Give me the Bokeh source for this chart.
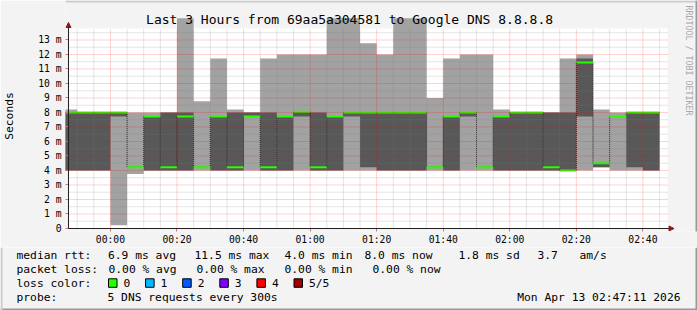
import math
from datetime import datetime, timedelta, timezone

from bokeh.plotting import figure
from bokeh.layouts import column
from bokeh.models import (Range1d, FixedTicker, CustomJSTickFormatter, BoxAnnotation,
                          Arrow, NormalHead)
from bokeh.core.properties import value
from bokeh.embed import file_html
from bokeh.resources import INLINE

# ---------------- data ----------------
slot_start = ["23:45", "23:50", "23:55", "00:00", "00:05", "00:10", "00:15", "00:20", "00:25",
              "00:30", "00:35", "00:40", "00:45", "00:50", "00:55", "01:00", "01:05", "01:10",
              "01:15", "01:20", "01:25", "01:30", "01:35", "01:40", "01:45", "01:50", "01:55",
              "02:00", "02:05", "02:10", "02:15", "02:20", "02:25", "02:30", "02:35", "02:40"]
# five sorted pings per slot, in ms
ping_1 = [4.0, 4.0, 4.0, 0.23, 3.75, 4.0, 4.0, 4.0, 4.0, 4.0, 4.0, 4.0, 4.0, 4.0, 4.0, 4.0, 4.0, 4.0,
          4.0, 4.0, 4.0, 4.0, 4.0, 4.0, 4.0, 4.0, 4.0, 4.0, 4.0, 4.0, 4.0, 4.0, 4.23, 4.0, 4.0, 4.0]
ping_2 = [4.0, 4.0, 4.0, 7.72, 4.23, 4.0, 4.0, 4.0, 4.23, 4.0, 4.0, 7.72, 4.0, 4.0, 7.72, 4.0, 4.0, 7.72,
          4.23, 4.0, 4.0, 4.0, 4.23, 4.0, 7.72, 4.23, 4.0, 4.0, 4.0, 4.0, 4.0, 7.72, 4.23, 7.72, 4.23, 4.0]
ping_median = [8.0, 8.0, 8.0, 8.0, 4.23, 7.72, 4.23, 7.72, 4.23, 7.72, 4.23, 7.72, 4.23, 7.72, 8.05, 4.23,
               7.72, 8.0, 8.0, 8.0, 8.0, 8.0, 4.23, 7.72, 8.0, 4.23, 7.72, 8.0, 8.0, 4.23, 4.0, 11.45,
               4.5, 7.72, 8.0, 8.0]
ping_4 = [8.0, 8.0, 8.0, 8.0, 4.23, 7.72, 8.0, 8.0, 4.23, 7.72, 8.0, 8.0, 8.0, 7.72, 8.05, 8.0, 7.72, 8.0,
          8.0, 8.0, 8.0, 8.0, 4.23, 7.72, 8.0, 4.23, 7.72, 8.0, 8.0, 8.0, 8.0, 11.72, 4.5, 7.72, 8.0, 8.0]
ping_5 = [8.2, 8.0, 8.0, 8.0, 8.0, 8.0, 8.0, 14.5, 8.78, 11.72, 8.2, 8.0, 11.72, 12.0, 12.0, 12.0, 14.5,
          14.5, 12.78, 12.0, 14.5, 14.5, 9.0, 11.72, 12.0, 12.0, 8.2, 8.0, 8.0, 8.0, 11.72, 12.0, 8.2,
          8.0, 8.0, 8.0]

x_tick_labels = ["00:00", "00:20", "00:40", "01:00", "01:20", "01:40", "02:00", "02:20", "02:40"]
y_tick_values = [0, 1, 2, 3, 4, 5, 6, 7, 8, 9, 10, 11, 12, 13]
view_start = "23:47:24"
view_end = "02:47:24"
y_top_ms = 13.793

title_text = "Last 3 Hours from 69aa5a304581 to Google DNS 8.8.8.8"
legend_median = ["median rtt:", "6.9 ms avg", "11.5 ms max", "4.0 ms min", "8.0 ms now",
                 "1.8 ms sd", "3.7", "am/s"]
legend_loss = ["packet loss:", "0.00 % avg", "0.00 % max", "0.00 % min", "0.00 % now"]
loss_title = "loss color:"
loss_labels = ["0", "1", "2", "3", "4", "5/5"]
loss_colors = ["#26ff00", "#00b8ff", "#0059ff", "#7e00ff", "#ff0000", "#a10000"]
probe_text = ["probe:", "5 DNS requests every 300s"]
date_text = "Mon Apr 13 02:47:11 2026"
side_text = "RRDTOOL / TOBI OETIKER"

# ---------------- helpers ----------------
BASE = datetime(2026, 4, 13, tzinfo=timezone.utc)


def to_ms(s):
    parts = [int(v) for v in s.split(":")]
    while len(parts) < 3:
        parts.append(0)
    h, m, sec = parts
    d = BASE + timedelta(hours=h, minutes=m, seconds=sec)
    if h >= 12:
        d -= timedelta(days=1)
    return d.timestamp() * 1000.0


STEP = 5 * 60 * 1000.0
x0 = to_ms(view_start)
x1 = to_ms(view_end)

# graph area (white) in canvas pixels: x 67..667, y 28..228
GL, GR, GT, GB = 67, 667, 28, 228


def X(px):
    return x0 + (px - GL) / (GR - GL) * (x1 - x0)


def Y(py):
    return (GB - py) / (GB - GT) * y_top_ms


MAIN_H = 247
FRAME_L, FRAME_B = 64, 231      # bokeh frame: x 64..697, y 0..231

starts = [to_ms(s) for s in slot_start]
ends = [s + STEP for s in starts]
xs = starts + [ends[-1]]
MONO = "DejaVu Sans Mono"
CANVAS = "#f3f3f3"


def no_align(fig):
    try:
        fig.frame_align = False
    except Exception:
        pass


# ---------------- main figure ----------------
p = figure(width=697, height=MAIN_H, output_backend="svg", toolbar_location=None,
           x_range=Range1d(X(FRAME_L), X(697)), y_range=Range1d(Y(FRAME_B), Y(0)),
           min_border_left=FRAME_L, min_border_right=0, min_border_top=0,
           min_border_bottom=MAIN_H - FRAME_B, title=None)
no_align(p)
p.border_fill_color = CANVAS
p.background_fill_color = CANVAS
p.outline_line_color = None
p.grid.visible = False

# white graph area
p.add_layout(BoxAnnotation(left=x0, right=x1, bottom=0, top=y_top_ms, fill_color="#ffffff",
                           fill_alpha=1.0, line_color=None, level="underlay"))

# smoke
p.varea_step(x=xs, y1=ping_1 + [ping_1[-1]], y2=ping_5 + [ping_5[-1]], step_mode="after",
             fill_color="#a2a2a2")
p.varea_step(x=xs, y1=ping_2 + [ping_2[-1]], y2=ping_4 + [ping_4[-1]], step_mode="after",
             fill_color="#585858")
p.step(x=xs, y=ping_median + [ping_median[-1]], mode="after", line_color="#202020",
       line_width=1, line_dash="1 1")
p.quad(left=starts, right=ends,
       bottom=[m - 0.07 for m in ping_median], top=[m + 0.07 for m in ping_median],
       fill_color="#26ff00", line_color=None)

# grid drawn over the smoke, as rrdtool does (limited to the graph area)
major_x = [to_ms(s) for s in x_tick_labels]
minor_x = []
t = to_ms("23:50")
while t <= x1:
    if t not in major_x:
        minor_x.append(t)
    t += STEP
minor_y = [v + 0.5 for v in y_tick_values]
major_y = [v for v in y_tick_values if v > 0]
GRID_MINOR = dict(line_color="#808080", line_alpha=0.4, line_width=1, line_dash="1 1")
GRID_MAJOR = dict(line_color="#ff0000", line_alpha=0.36, line_width=1, line_dash="1 1")
p.segment(x0=minor_x, x1=minor_x, y0=[0] * len(minor_x), y1=[y_top_ms] * len(minor_x), **GRID_MINOR)
p.segment(x0=[x0] * len(minor_y), x1=[x1] * len(minor_y), y0=minor_y, y1=minor_y, **GRID_MINOR)
p.segment(x0=major_x, x1=major_x, y0=[0] * len(major_x), y1=[y_top_ms] * len(major_x), **GRID_MAJOR)
p.segment(x0=[x0] * len(major_y), x1=[x1] * len(major_y), y0=major_y, y1=major_y, **GRID_MAJOR)

# axis lines with arrows
head = dict(size=5, fill_color="#8b1a1a", line_color="#8b1a1a")
p.add_layout(Arrow(x_start=x0, y_start=0, x_end=X(673.5), y_end=0, line_color="#202020",
                   line_width=1, end=NormalHead(**head)))
p.add_layout(Arrow(x_start=x0, y_start=0, x_end=x0, y_end=Y(22), line_color="#202020",
                   line_width=1, end=NormalHead(**head)))

# axes
p.xaxis.ticker = FixedTicker(ticks=major_x, minor_ticks=[])
p.xaxis.formatter = CustomJSTickFormatter(code="""
const d = new Date(tick);
return String(d.getUTCHours()).padStart(2,'0') + ':' + String(d.getUTCMinutes()).padStart(2,'0');
""")
p.yaxis.ticker = FixedTicker(ticks=y_tick_values, minor_ticks=[])
p.yaxis.formatter = CustomJSTickFormatter(code="""
const v = Math.round(tick);
return v == 0 ? '0' : v + ' m';
""")
for ax in (p.xaxis[0], p.yaxis[0]):
    ax.axis_line_color = None
    ax.major_label_text_font = MONO
    ax.major_label_text_font_size = "9.7px"
    ax.major_label_text_color = "#000000"
    ax.major_tick_in = 3
    ax.major_tick_out = 0
    ax.minor_tick_in = 0
    ax.minor_tick_out = 0
    ax.major_tick_line_color = "#e07070"
p.xaxis.major_label_standoff = 2
p.yaxis.major_label_standoff = 4
p.yaxis.axis_label = "Seconds"
p.yaxis.axis_label_text_font = MONO
p.yaxis.axis_label_text_font_size = "11.3px"
p.yaxis.axis_label_text_font_style = "normal"
p.yaxis.axis_label_text_color = "#000000"
p.yaxis.axis_label_standoff = 19

# title and side text
p.text(x=[X(348.5)], y=[Y(19)], text=[title_text], text_font=value(MONO), text_font_size="13px",
       text_align="center", text_baseline="middle", text_color="#000000")
p.text(x=[X(688)], y=[Y(5)], text=[side_text], text_font=value(MONO), text_font_size="8.3px",
       text_align="left", text_baseline="middle", text_color="#a8a8a8", angle=-math.pi / 2)
# shades (top and right)
p.quad(left=[X(FRAME_L), X(695)], right=[X(697), X(697)], bottom=[Y(2), Y(MAIN_H)],
       top=[Y(0), Y(0)], fill_color=["#cbcbcb", "#999999"], line_color=None)

# ---------------- legend strip (canvas pixel coordinates) ----------------
q = figure(width=697, height=310 - MAIN_H, output_backend="svg", toolbar_location=None,
           x_range=Range1d(0, 697), y_range=Range1d(310, MAIN_H),
           x_axis_location=None, y_axis_location=None, min_border=0,
           min_border_left=0, min_border_right=0, min_border_top=0, min_border_bottom=0,
           title=None)
no_align(q)
q.border_fill_color = CANVAS
q.background_fill_color = CANVAS
q.outline_line_color = None
q.grid.visible = False

LEG_FS = "11.3px"


def qtext(xs_, ys_, texts, align="left"):
    q.text(x=xs_, y=ys_, text=texts, text_font=value(MONO), text_font_size=LEG_FS,
           text_align=align, text_baseline="middle", text_color="#000000")


row1_x = [16, 107.5, 194, 284, 364, 458, 537, 579]
qtext(row1_x, [254.5] * len(row1_x), legend_median)
row2_x = [16, 108, 196, 284, 372]
qtext(row2_x, [268.5] * len(row2_x), legend_loss)
box_x = [108 + i * 37.1 for i in range(len(loss_labels))]
qtext([16] + [b + 15 for b in box_x], [282.5] * (len(box_x) + 1), [loss_title] + loss_labels)
q.quad(left=box_x, right=[b + 8.5 for b in box_x], top=[278.3] * len(box_x),
       bottom=[286.8] * len(box_x), fill_color=loss_colors, line_color="#000000", line_width=1)
qtext([16, 107], [296.5, 296.5], probe_text)
qtext([680], [296.5], [date_text], align="right")
# shades
q.quad(left=[0, 695, 0], right=[697, 697, 2], top=[308, MAIN_H, MAIN_H], bottom=[310, 310, 310],
       fill_color=["#999999", "#999999", "#cbcbcb"], line_color=None)

layout = column(p, q, spacing=0)
open("out.html", "w").write(file_html(layout, INLINE))
